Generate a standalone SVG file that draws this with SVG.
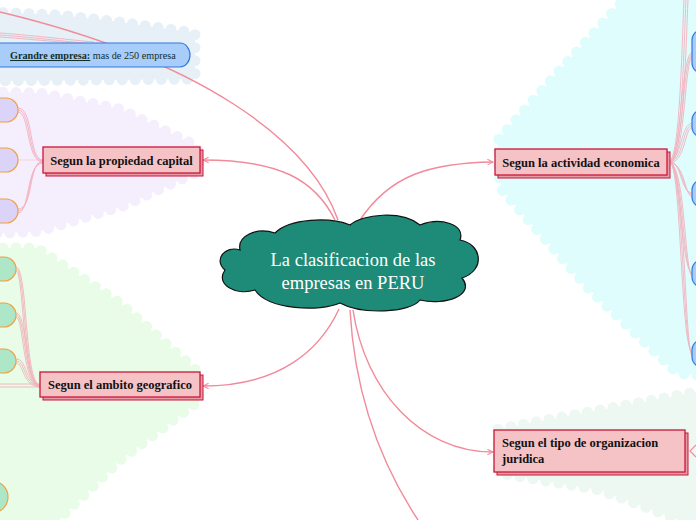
<svg xmlns="http://www.w3.org/2000/svg" width="696" height="520" viewBox="0 0 696 520">
<defs>
<style>
.region{stroke-width:11;stroke-dasharray:0 13;stroke-linecap:round;stroke-linejoin:round}
.conn{fill:none;stroke:#f28a9a;stroke-width:1.4}
.strand{fill:none;stroke:#f4a6b4;stroke-width:0.9;opacity:0.85}
.topic rect.shadow{fill:#e79aa6;stroke:#c8163a;stroke-width:1}
.topic rect.main{fill:#f5c3c6;stroke:#c8163a;stroke-width:1.3}
.topic text{font-family:"Liberation Serif","DejaVu Serif",serif;font-weight:bold;font-size:12.5px;fill:#111}
.leafP{fill:#dcd4f8;stroke:#f0a040;stroke-width:1.2}
.leafG{fill:#aee6c8;stroke:#f0a040;stroke-width:1.2}
.leafB{fill:#a9cdfb;stroke:#2f7be0;stroke-width:1.2}
.gtxt{font-family:"Liberation Serif","DejaVu Serif",serif;font-size:10.2px;fill:#12302a}
</style>
<marker id="arr" viewBox="0 0 10 10" refX="9" refY="5" markerWidth="7" markerHeight="7" orient="auto-start-reverse" markerUnits="userSpaceOnUse">
<path d="M1 1 L9 5 L1 9" fill="none" stroke="#f28a9a" stroke-width="1.5"/>
</marker>
</defs>

<g id="regions">
<polygon class="region" fill="#e6f0f6" stroke="#e6f0f6" points="-10,12 60,15 120,22 195,33 195,79 -10,81"/>
<polygon class="region" fill="#f5eefc" stroke="#f5eefc" points="-10,92 40,93 120,109 197,146 200,160 197,172 123,206 40,231 -10,234"/>
<polygon class="region" fill="#e8fce8" stroke="#e8fce8" points="-10,248 37,248 120,303 197,371 200,400 120,460 48,530 -10,530"/>
<polygon class="region" fill="#e0fdfd" stroke="#e0fdfd" points="633,-10 706,-10 706,376 677,373 590,290 502,190 498,170 498,140 560,70"/>
<polygon class="region" fill="#eef8f2" stroke="#eef8f2" points="498,429 600,410 706,390 706,530 600,490 498,473"/>
</g>

<g id="connectors">
<path class="conn" d="M338 220 C310 140 200 60 0 12"/>
<path class="conn" d="M335 220 C315 180 280 160 203 160" marker-end="url(#arr)"/>
<path class="conn" d="M360 220 C390 175 430 163 493 162" marker-end="url(#arr)"/>
<path class="conn" d="M339 309 C320 350 280 386 203 386" marker-end="url(#arr)"/>
<path class="conn" d="M353 310 C365 390 420 452 493 452" marker-end="url(#arr)"/>
<path class="conn" d="M350 310 C355 400 385 470 418 520"/>
<g class="strand">
<path d="M0 33 C40 36 70 40 94 42"/><path d="M0 35 C40 38 70 42 94 44"/><path d="M0 37 C40 40 70 43 94 45"/>
</g>
<g class="strand">
<path d="M18 108 C34 108 28 160 43 160"/><path d="M18 110 C32 110 27 161 43 161"/><path d="M18 112 C30 112 26 162 43 162"/>
<path d="M18 160 L43 160" opacity="0.5"/>
<path d="M18 209 C34 209 28 161 43 161"/><path d="M18 211 C32 211 27 162 43 162"/><path d="M18 213 C30 213 26 163 43 163"/>
</g>
<g class="strand">
<path d="M16 267 C28 267 24 384 40 385"/><path d="M16 269 C26 269 23 385 40 386"/><path d="M16 271 C24 271 22 386 40 387"/>
<path d="M16 313 C28 313 24 384 40 385"/><path d="M16 315 C26 315 23 385 40 386"/><path d="M16 317 C24 317 22 386 40 387"/>
<path d="M16 359 C28 359 24 384 40 385"/><path d="M16 361 C26 361 23 385 40 386"/><path d="M16 363 C24 363 22 386 40 387"/>
<path d="M0 384 L40 384"/><path d="M0 387 L40 387"/>
</g>
<g class="strand">
<path d="M669 161 C682 161 680 52 693 52"/><path d="M669 162 C684 162 682 54 693 54"/><path d="M669 163 C686 163 684 56 693 56"/>
<path d="M669 161 C682 161 680 123 693 123"/><path d="M669 162 C684 162 682 125 693 125"/><path d="M669 163 C686 163 684 127 693 127"/>
<path d="M669 161 C682 161 680 193 693 193"/><path d="M669 162 C684 162 682 195 693 195"/><path d="M669 163 C686 163 684 197 693 197"/>
<path d="M669 161 C682 161 680 273 693 273"/><path d="M669 162 C684 162 682 275 693 275"/><path d="M669 163 C686 163 684 277 693 277"/>
<path d="M669 161 C682 161 680 353 693 353"/><path d="M669 162 C684 162 682 355 693 355"/><path d="M669 163 C686 163 684 357 693 357"/>
<path d="M669 161 C680 161 682 40 684 0"/><path d="M669 162 C682 162 684 40 686 0"/><path d="M669 163 C684 163 686 40 688 0"/>
</g>
<path d="M696 445 L690 451 L696 457" fill="none" stroke="#f28a9a" stroke-width="1.2"/>
</g>

<g id="center">
<path d="M240 250 C225 245 213 260 225 270 C215 284 235 296 255 290 C268 310 320 312 340 303 C362 315 410 313 420 300 C445 306 476 295 462 278 C486 270 482 244 460 240 C466 224 440 217 420 225 C402 210 362 214 350 225 C330 217 290 218 275 233 C256 227 237 236 240 250 Z" fill="#1e8a78" stroke="#111" stroke-width="1.2"/>
<text x="353" y="266" text-anchor="middle" font-family="Liberation Serif, DejaVu Serif, serif" font-size="18.5" fill="#fff">La clasificacion de las</text>
<text x="353" y="289" text-anchor="middle" font-family="Liberation Serif, DejaVu Serif, serif" font-size="18.5" fill="#fff">empresas en PERU</text>
</g>

<g id="grandre">
<path class="leafB" d="M-10 43 H180 A10 12 0 0 1 180 67 H-10 Z"/>
<text class="gtxt" x="10" y="59"><tspan font-weight="bold" text-decoration="underline">Grandre empresa:</tspan> mas de 250 empresa</text>
</g>

<g id="propiedad" class="topic">
<rect class="shadow" x="46" y="150" width="157" height="26"/>
<rect class="main" x="43" y="147" width="157" height="26"/>
<text x="121.5" y="165" text-anchor="middle">Segun la propiedad capital</text>
</g>
<g id="prop-leaves">
<path class="leafP" d="M-10 98 H6 A12 12 0 0 1 6 122 H-10 Z"/>
<path class="leafP" d="M-10 148 H6 A12 12 0 0 1 6 172 H-10 Z"/>
<path class="leafP" d="M-10 199 H6 A12 12 0 0 1 6 223 H-10 Z"/>
</g>

<g id="ambito" class="topic">
<rect class="shadow" x="43" y="375" width="160" height="25"/>
<rect class="main" x="40" y="372" width="160" height="25"/>
<text x="120" y="389" text-anchor="middle">Segun el ambito geografico</text>
</g>
<g id="amb-leaves">
<path class="leafG" d="M-10 257 H4 A12 12 0 0 1 4 281 H-10 Z"/>
<path class="leafG" d="M-10 303 H4 A12 12 0 0 1 4 327 H-10 Z"/>
<path class="leafG" d="M-10 349 H4 A12 12 0 0 1 4 373 H-10 Z"/>
<circle class="leafG" cx="-8" cy="497" r="16"/>
</g>

<g id="actividad" class="topic">
<rect class="shadow" x="498" y="152" width="172" height="26"/>
<rect class="main" x="495" y="149" width="172" height="26"/>
<text x="581" y="167" text-anchor="middle">Segun la actividad economica</text>
</g>
<g id="act-leaves">
<rect class="leafB" x="692" y="30" width="30" height="43" rx="10"/>
<rect class="leafB" x="692" y="110" width="30" height="27" rx="10"/>
<rect class="leafB" x="692" y="180" width="30" height="27" rx="10"/>
<rect class="leafB" x="692" y="260" width="30" height="27" rx="10"/>
<rect class="leafB" x="692" y="340" width="30" height="27" rx="10"/>
</g>

<g id="juridica" class="topic">
<rect class="shadow" x="497" y="433" width="191" height="42"/>
<rect class="main" x="494" y="430" width="191" height="42"/>
<text x="502" y="447">Segun el tipo de organizacion</text>
<text x="502" y="463">juridica</text>
</g>
</svg>
